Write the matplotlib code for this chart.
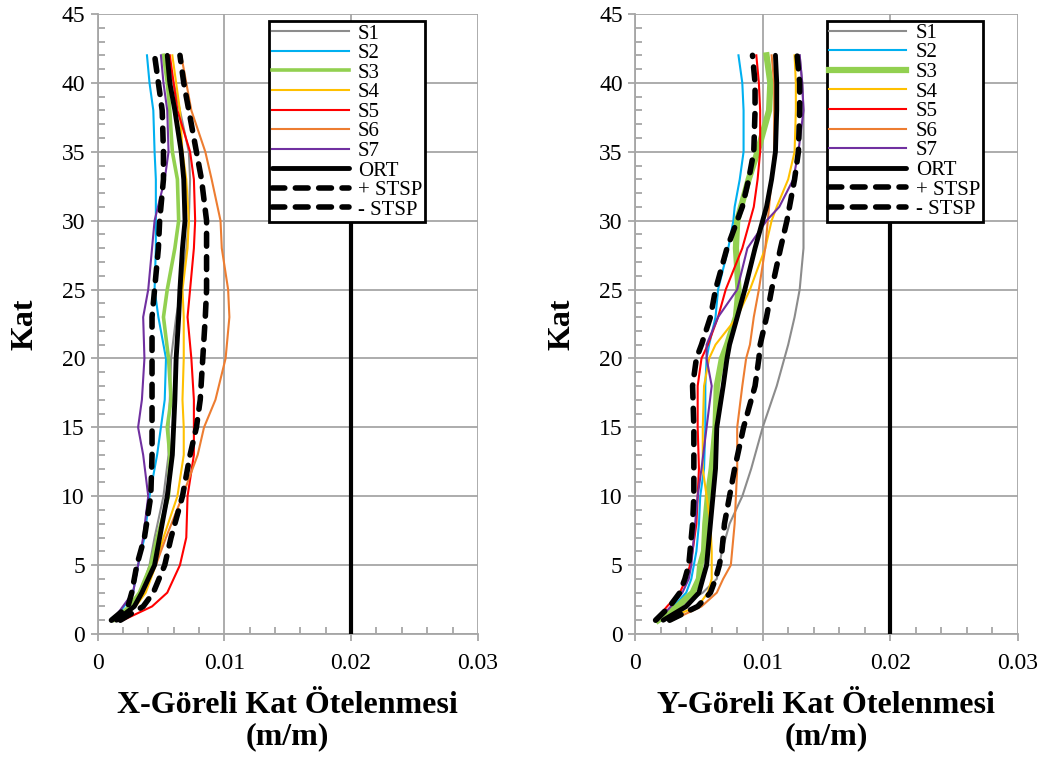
import matplotlib
matplotlib.use("Agg")
import matplotlib.pyplot as plt
from matplotlib.ticker import MultipleLocator, FixedLocator, FixedFormatter

# ---- X direction drift ratios by storey ----
floors_x = [1, 2, 3, 5, 7, 10, 13, 15, 17, 20, 23, 25, 28, 30, 33, 35, 38, 40, 42]
x_s1 = [0.0013, 0.0027, 0.0034, 0.0041, 0.0045, 0.0052, 0.0056, 0.0056, 0.0057, 0.0058, 0.0062, 0.0066, 0.0070, 0.0072, 0.0073, 0.0072, 0.0065, 0.0060, 0.0055]
x_s2 = [0.0012, 0.0021, 0.0028, 0.0032, 0.0037, 0.0041, 0.0047, 0.0050, 0.0053, 0.0054, 0.0048, 0.0045, 0.0046, 0.0046, 0.0046, 0.0045, 0.0044, 0.0041, 0.0039]
x_s3 = [0.0013, 0.0025, 0.0033, 0.0042, 0.0047, 0.0056, 0.0057, 0.0055, 0.0058, 0.0056, 0.0052, 0.0055, 0.0061, 0.0064, 0.0063, 0.0059, 0.0057, 0.0055, 0.0052]
x_s4 = [0.0014, 0.0030, 0.0038, 0.0046, 0.0052, 0.0063, 0.0068, 0.0068, 0.0067, 0.0068, 0.0068, 0.0067, 0.0071, 0.0072, 0.0070, 0.0067, 0.0065, 0.0062, 0.0059]
x_s5 = [0.0020, 0.0043, 0.0055, 0.0065, 0.0070, 0.0071, 0.0076, 0.0076, 0.0076, 0.0074, 0.0071, 0.0073, 0.0076, 0.0077, 0.0076, 0.0073, 0.0063, 0.0060, 0.0057]
x_s6 = [0.0015, 0.0028, 0.0036, 0.0046, 0.0054, 0.0067, 0.0079, 0.0084, 0.0093, 0.0101, 0.0104, 0.0103, 0.0098, 0.0097, 0.0090, 0.0085, 0.0074, 0.0070, 0.0066]
x_s7 = [0.0012, 0.0020, 0.0028, 0.0032, 0.0036, 0.0040, 0.0036, 0.0032, 0.0035, 0.0037, 0.0036, 0.0040, 0.0043, 0.0045, 0.0053, 0.0056, 0.0055, 0.0052, 0.0050]
x_ort = [0.0015, 0.0029, 0.0035, 0.0045, 0.0049, 0.0055, 0.0059, 0.0060, 0.0061, 0.0062, 0.0064, 0.0065, 0.0067, 0.0069, 0.0068, 0.0066, 0.0061, 0.0057, 0.0055]
x_plus = [0.0018, 0.0036, 0.0044, 0.0053, 0.0058, 0.0067, 0.0073, 0.0078, 0.0081, 0.0083, 0.0085, 0.0086, 0.0086, 0.0086, 0.0082, 0.0078, 0.0072, 0.0068, 0.0065]
x_minus = [0.0011, 0.0024, 0.0027, 0.0031, 0.0037, 0.0042, 0.0043, 0.0043, 0.0043, 0.0043, 0.0043, 0.0045, 0.0048, 0.0049, 0.0052, 0.0052, 0.0051, 0.0048, 0.0045]

# ---- Y direction drift ratios by storey ----
floors_y = [1, 2, 3, 4, 5, 6, 8, 10, 12, 15, 18, 20, 21, 23, 25, 28, 30, 31, 33, 35, 38, 40, 42]
y_s1 = [0.0020, 0.0035, 0.0053, 0.0064, 0.0066, 0.0068, 0.0074, 0.0084, 0.0091, 0.0100, 0.0111, 0.0117, 0.0120, 0.0125, 0.0129, 0.0132, 0.0132, 0.0132, 0.0132, 0.0132, 0.0132, 0.0131, 0.0129]
y_s2 = [0.0017, 0.0030, 0.0040, 0.0044, 0.0046, 0.0048, 0.0050, 0.0051, 0.0054, 0.0055, 0.0055, 0.0056, 0.0058, 0.0063, 0.0065, 0.0073, 0.0077, 0.0078, 0.0082, 0.0085, 0.0085, 0.0084, 0.0081]
y_s3 = [0.0018, 0.0033, 0.0045, 0.0050, 0.0051, 0.0054, 0.0055, 0.0057, 0.0060, 0.0063, 0.0064, 0.0068, 0.0072, 0.0079, 0.0081, 0.0079, 0.0080, 0.0083, 0.0089, 0.0096, 0.0105, 0.0106, 0.0103]
y_s4 = [0.0022, 0.0049, 0.0057, 0.0060, 0.0060, 0.0060, 0.0059, 0.0056, 0.0053, 0.0053, 0.0054, 0.0058, 0.0063, 0.0080, 0.0090, 0.0102, 0.0107, 0.0111, 0.0120, 0.0125, 0.0126, 0.0126, 0.0125]
y_s5 = [0.0016, 0.0025, 0.0035, 0.0040, 0.0043, 0.0045, 0.0048, 0.0049, 0.0050, 0.0049, 0.0049, 0.0052, 0.0057, 0.0065, 0.0071, 0.0084, 0.0090, 0.0093, 0.0096, 0.0098, 0.0098, 0.0097, 0.0095]
y_s6 = [0.0029, 0.0052, 0.0064, 0.0069, 0.0075, 0.0076, 0.0078, 0.0079, 0.0080, 0.0080, 0.0084, 0.0087, 0.0090, 0.0093, 0.0097, 0.0102, 0.0104, 0.0105, 0.0107, 0.0109, 0.0109, 0.0109, 0.0107]
y_s7 = [0.0018, 0.0028, 0.0037, 0.0042, 0.0044, 0.0045, 0.0047, 0.0049, 0.0052, 0.0056, 0.0060, 0.0056, 0.0056, 0.0065, 0.0080, 0.0088, 0.0103, 0.0113, 0.0124, 0.0128, 0.0132, 0.0131, 0.0129]
y_ort = [0.0022, 0.0040, 0.0050, 0.0053, 0.0056, 0.0057, 0.0059, 0.0061, 0.0063, 0.0064, 0.0069, 0.0072, 0.0074, 0.0080, 0.0086, 0.0094, 0.0100, 0.0103, 0.0107, 0.0110, 0.0111, 0.0111, 0.0110]
y_plus = [0.0027, 0.0049, 0.0059, 0.0063, 0.0066, 0.0068, 0.0070, 0.0074, 0.0078, 0.0085, 0.0094, 0.0097, 0.0098, 0.0103, 0.0107, 0.0114, 0.0119, 0.0121, 0.0125, 0.0128, 0.0129, 0.0129, 0.0127]
y_minus = [0.0016, 0.0027, 0.0035, 0.0039, 0.0042, 0.0043, 0.0045, 0.0046, 0.0046, 0.0046, 0.0045, 0.0048, 0.0052, 0.0059, 0.0063, 0.0072, 0.0080, 0.0084, 0.0089, 0.0093, 0.0094, 0.0094, 0.0092]

series_names = ["S1", "S2", "S3", "S4", "S5", "S6", "S7", "ORT", "+ STSP", "- STSP"]
series_colors = ["#8C8C8C", "#00B0F0", "#92D050", "#FFC000", "#FF0000", "#ED7D31", "#7030A0",
                 "black", "black", "black"]
x_ticks = [0, 0.01, 0.02, 0.03]
x_tick_labels = ["0", "0.01", "0.02", "0.03"]
y_ticks = [0, 5, 10, 15, 20, 25, 30, 35, 40, 45]
separator_x = 0.02
separator_top = 42

GRID = "#A6A6A6"
SERIF = "Liberation Serif"

fig = plt.figure(figsize=(10.52, 7.6), dpi=100)
ax_x = fig.add_axes([0.0927, 0.1658, 0.3616, 0.8158])
ax_y = fig.add_axes([0.6038, 0.1658, 0.3636, 0.8158])


def draw_panel(ax, floors, data, s3_width, xlabel, legend_anchor):
    handles = []
    for i, (vals, name, col) in enumerate(zip(data, series_names, series_colors)):
        if name == "ORT":
            ln, = ax.plot(vals, floors, color=col, lw=3.5, solid_capstyle="round", zorder=5)
        elif "STSP" in name:
            ln, = ax.plot(vals, floors, color=col, lw=4.0, dashes=(2.3, 1.9),
                          dash_capstyle="round", zorder=6)
        else:
            lw = s3_width if name == "S3" else 1.5
            ln, = ax.plot(vals, floors, color=col, lw=lw, zorder=3 + 0.01 * i)
        ln.set_label(name)
        handles.append(ln)

    ax.vlines(separator_x, 0, separator_top, color="black", lw=3, zorder=4)

    ax.set_xlim(0, 0.03)
    ax.set_ylim(0, 45)
    ax.xaxis.set_major_locator(FixedLocator(x_ticks))
    ax.xaxis.set_major_formatter(FixedFormatter(x_tick_labels))
    ax.xaxis.set_minor_locator(MultipleLocator(0.002))
    ax.yaxis.set_major_locator(FixedLocator(y_ticks))
    ax.yaxis.set_minor_locator(MultipleLocator(1))
    ax.grid(True, which="major", color=GRID, lw=1.3, zorder=0)
    ax.set_axisbelow(True)
    for side in ("top", "right"):
        ax.spines[side].set_visible(False)
    for side in ("left", "bottom"):
        ax.spines[side].set_color(GRID)
        ax.spines[side].set_linewidth(1.3)
    ax.tick_params(which="major", direction="out", length=5, width=1.3, color=GRID,
                   labelsize=17)
    ax.tick_params(axis="x", which="major", pad=9)
    ax.tick_params(axis="y", which="major", pad=4)
    ax.tick_params(which="minor", direction="in", length=5, width=1.3, color=GRID)
    for lab in ax.get_xticklabels() + ax.get_yticklabels():
        lab.set_family(SERIF)
    ax.set_xlabel(xlabel, fontsize=23, fontweight="bold", family=SERIF,
                  linespacing=1.1, labelpad=12)
    ax.set_ylabel("Kat", fontsize=23, fontweight="bold", family=SERIF, labelpad=16)

    leg = ax.legend(handles=handles, loc="upper left", bbox_to_anchor=legend_anchor,
                    borderaxespad=0, frameon=True, fancybox=False, framealpha=1,
                    edgecolor="black", handlelength=3.7, handletextpad=0.45,
                    labelspacing=0.0, borderpad=0.12,
                    prop={"family": SERIF, "size": 15})
    leg.get_frame().set_linewidth(2)
    leg.set_zorder(20)


draw_panel(ax_x, floors_x,
           [x_s1, x_s2, x_s3, x_s4, x_s5, x_s6, x_s7, x_ort, x_plus, x_minus],
           2.6, "X-Göreli Kat Ötelenmesi\n(m/m)", (0.451, 0.988))
draw_panel(ax_y, floors_y,
           [y_s1, y_s2, y_s3, y_s4, y_s5, y_s6, y_s7, y_ort, y_plus, y_minus],
           4.5, "Y-Göreli Kat Ötelenmesi\n(m/m)", (0.501, 0.989))

fig.savefig("out.png", dpi=100)
